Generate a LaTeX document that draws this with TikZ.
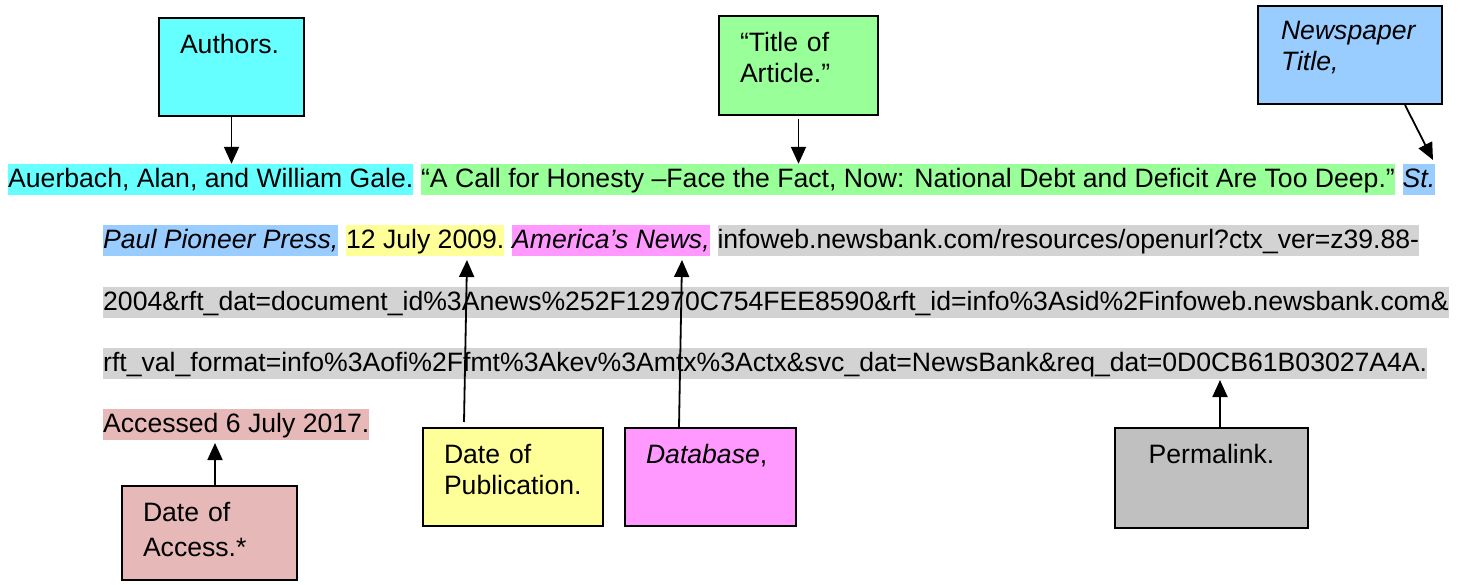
\documentclass[tikz,border=0pt]{standalone}
\usepackage{fontspec}
\setmainfont{Liberation Sans}
\usetikzlibrary{positioning,arrows.meta}

\definecolor{cyanhl}{RGB}{102,255,255}
\definecolor{greenhl}{RGB}{153,255,153}
\definecolor{bluehl}{RGB}{153,204,255}
\definecolor{yellowhl}{RGB}{255,255,153}
\definecolor{pinkhl}{RGB}{255,153,255}
\definecolor{grayhl}{RGB}{211,211,211}
\definecolor{graybox}{RGB}{192,192,192}
\definecolor{rosehl}{RGB}{230,184,183}

\begin{document}
\begin{tikzpicture}[x=1pt, y=-1pt, >={Triangle[width=15pt,length=17pt]},
    font=\fontsize{26.6}{31}\selectfont,
    hl/.style={inner xsep=0pt, inner ysep=0pt, text height=23pt, text depth=8pt, anchor=base west},
    infobox/.style={draw, line width=2pt, anchor=north west, inner xsep=21pt, inner ysep=0pt,
      text height=35pt, align=left},
    link/.style={line width=1.8pt}]
  \useasboundingbox (0,0) rectangle (1468,584);

  % the citation, one highlight per part
  \node[hl, fill=cyanhl] (auth) at (8,187) {Auerbach, Alan, and William Gale.};
  \node[hl, fill=greenhl, right=7.4pt of auth] (title) {“A Call for Honesty –Face the Fact, Now: National Debt and Deficit Are Too Deep.”};
  \node[hl, fill=bluehl, right=7.4pt of title] (st) {\textit{St.}};

  \node[hl, fill=bluehl] (paper) at (103,248) {\textit{Paul Pioneer Press,}};
  \node[hl, fill=yellowhl, right=7.4pt of paper] (pubdate) {12 July 2009.};
  \node[hl, fill=pinkhl, right=7.4pt of pubdate] (db) {\textit{America’s News,}};
  \node[hl, fill=grayhl, right=7.4pt of db] (urla) {infoweb.newsbank.com/resources/openurl?ctx\_ver=z39.88-};
  \node[hl, fill=grayhl] (urlb) at (103,310) {2004\&rft\_dat=document\_id\%3Anews\%252F12970C754FEE8590\&rft\_id=info\%3Asid\%2Finfoweb.newsbank.com\&};
  \node[hl, fill=grayhl] (urlc) at (103,371) {rft\_val\_format=info\%3Aofi\%2Ffmt\%3Akev\%3Amtx\%3Actx\&svc\_dat=NewsBank\&req\_dat=0D0CB61B03027A4A.};
  \node[hl, fill=rosehl] (access) at (103,432) {Accessed 6 July 2017.};

  % the boxes
  \node[infobox, fill=cyanhl, text width=103pt, text depth=63pt] (authors) at (158,17) {Authors.};
  \node[infobox, fill=greenhl, text width=117pt, text depth=64pt] (titlebox) at (718,15) {“Title of\\Article.”};
  \node[infobox, fill=bluehl, inner xsep=23pt, text width=138pt, text height=33pt, text depth=65pt] (paperbox) at (1257,5) {\textit{Newspaper}\\\textit{Title,}};
  \node[infobox, fill=yellowhl, text width=138pt, text depth=63pt] (pubbox) at (422,427) {Date of\\Publication.};
  \node[infobox, fill=pinkhl, text width=129pt, text depth=63pt] (dbbox) at (624,427) {\textit{Database},};
  \node[infobox, fill=graybox, align=center, text width=151pt, text depth=65pt] (permbox) at (1114,427) {Permalink.};
  \node[infobox, fill=rosehl, text width=133pt, text depth=59pt] (accbox) at (121,485) {Date of\\[4pt]Access.*};

  \coordinate (stTip) at (1433,160);
  \coordinate (pubTip) at (467,260);
  \coordinate (dbTip) at (682,260);
  \coordinate (permTip) at (1220,380);
  \coordinate (accTip) at (215,443);

  % arrows
  \draw[link, ->] (authors) -- (authors |- auth.north);
  \draw[link, ->] ([yshift=-3pt]titlebox.south) -- (titlebox |- title.north);
  \draw[link, ->] ([xshift=55pt]paperbox.south) -- (stTip);
  \draw[link, ->] ([xshift=42pt,yshift=5pt]pubbox.north west) -- (pubTip);
  \draw[link, ->] ([xshift=55pt]dbbox.north west) -- (dbTip);
  \draw[link, ->] (permTip |- permbox.north) -- (permTip);
  \draw[link, ->] (accTip |- accbox.north) -- (accTip);
\end{tikzpicture}
\end{document}
